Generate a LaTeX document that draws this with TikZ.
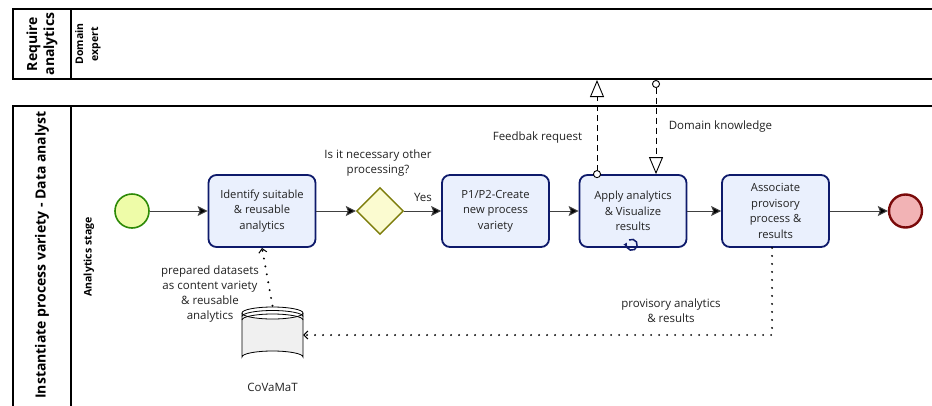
\documentclass[tikz,border=0pt]{standalone}
\usepackage{fontspec}
\setmainfont{Open Sans}
\usetikzlibrary{shapes.geometric,arrows.meta,calc}
\definecolor{taskfill}{HTML}{EAF0FD}
\definecolor{taskdraw}{HTML}{0E1A6B}
\definecolor{startfill}{HTML}{EEFCA8}
\definecolor{startdraw}{HTML}{2D8A07}
\definecolor{endfill}{HTML}{F2B3B5}
\definecolor{enddraw}{HTML}{7A0A0A}
\definecolor{gwfill}{HTML}{FBFBD0}
\definecolor{gwdraw}{HTML}{7D7D0A}
\definecolor{txt}{HTML}{222222}
\tikzset{
  pool/.style={line width=1.2pt, draw=black},
  task/.style={rectangle, rounded corners=8pt, line width=1.8pt, draw=taskdraw, fill=taskfill,
    minimum width=107, minimum height=72, align=center, inner sep=2pt,
    font=\fontsize{11.2}{15.5}\selectfont, text=txt},
  startev/.style={circle, line width=1.6pt, draw=startdraw, fill=startfill, minimum size=34, inner sep=0},
  endev/.style={circle, line width=2.4pt, draw=enddraw, fill=endfill, minimum size=33, inner sep=0},
  gway/.style={diamond, aspect=1, line width=1.4pt, draw=gwdraw, fill=gwfill, minimum width=47, minimum height=47, inner sep=0},
  seqflow/.style={line width=1pt, draw=black!75, -{Stealth[length=10pt,width=10pt,inset=2pt,fill=black]}},
  msgflow/.style={line width=0.9pt, dash pattern=on 6pt off 4pt, {Circle[open,length=8pt,width=8pt,fill=white]}-{Triangle[open,length=17pt,width=14pt,fill=white]}},
  assoc/.style={line width=2.2pt, line cap=round, dash pattern=on 0pt off 8pt, -{Straight Barb[length=4pt,width=8pt,line width=1pt]}},
  lbl/.style={font=\fontsize{11.5}{15}\selectfont, align=center, text=txt, inner sep=0},
  pooltitle/.style={font=\bfseries\fontsize{14}{17}\selectfont, align=center, rotate=90, inner sep=0},
  lanetitle/.style={font=\bfseries\fontsize{10.5}{15}\selectfont, align=center, rotate=90, inner sep=0}
}
\begin{document}
\begin{tikzpicture}[x=1pt,y=-1pt]
\useasboundingbox (0,0) rectangle (932,405);
\fill[white] (0,0) rectangle (932,405);
% pools
\draw[pool] (932,9) -- (13,9) -- (13,79) -- (932,79);
\draw[pool] (71,9) -- (71,79);
\draw[pool] (932,106) -- (13,106) -- (13,406);
\draw[pool] (71,106) -- (71,406);
\node[pooltitle] (p1t) at (42,44) {Require\\analytics};
\node[lanetitle] (l1t) at (88,44) {Domain\\expert};
\node[pooltitle] (p2t) at (42,255) {Instantiate process variety - Data analyst};
\node[lanetitle] (l2t) at (89,257) {Analytics stage};
% nodes
\node[startev] (start) at (132,211) {};
\node[task] (t1) at (262,211) {Identify suitable\\\& reusable\\analytics};
\node[gway] (gw) at (380,211) {};
\node[task] (t2) at (495.5,211) {P1/P2-Create\\new process\\variety};
\node[task] (t3) at (633,211) {Apply analytics\\\& Visualize\\results};
\node[task] (t4) at (775.5,211) {Associate\\provisory\\process \&\\results};
\node[endev] (end) at (905.5,211) {};
% loop marker
\draw[taskdraw, line width=1.5pt, -{Latex[length=3.5pt,width=4.5pt]}] (629,240) arc (-120:205:5.5);
% sequence flows
\draw[seqflow] (start) -- (t1);
\draw[seqflow] (t1) -- (gw);
\draw[seqflow] (gw) -- (t2);
\draw[seqflow] (t2) -- (t3);
\draw[seqflow] (t3) -- (t4);
\draw[seqflow] (t4) -- (end);
% labels
\node[lbl] (gwl) at (378,163) {Is it necessary other\\processing?};
\node[lbl] (yes) at (423,197) {Yes};
% message flows
\coordinate (fbtop) at (597,80);
\coordinate (dktop) at (656,80);
\draw[msgflow] ($(fbtop |- t3.north)+(0,4)$) -- (fbtop);
\draw[msgflow] (dktop) -- (dktop |- t3.north);
\node[lbl] (fbl) at (537.5,138) {Feedbak request};
\node[lbl] (dkl) at (720.5,127) {Domain knowledge};
% data store
\node[inner sep=0, minimum width=61, minimum height=58] (db) at (272.5,335) {};
\begin{scope}[line width=0.8pt]
\fill[black!6] (242,313) -- (242,357) arc (180:360:30.5 and 6) -- (303,313) -- cycle;
\fill[white] (272.5,313) ellipse (30.5 and 6);
\draw (242,313) -- (242,357) arc (180:360:30.5 and 6) -- (303,313);
\draw (272.5,313) ellipse (30.5 and 6);
\draw (242,316.5) arc (180:360:30.5 and 6);
\draw (242,320) arc (180:360:30.5 and 6);
\end{scope}
\node[lbl] (dbl) at (272.5,387) {CoVaMaT};
% data associations
\draw[assoc] (db.north) -- (t1.south);
\coordinate (bend) at (772,335);
\draw[assoc] (t4.south -| bend) -- (bend) -- (db.east);
\node[lbl] (pdl) at (210,294.5) {prepared datasets\\as content variety\\\& reusable\\analytics};
\node[lbl] (pal) at (671,310.5) {provisory analytics\\\& results};
\end{tikzpicture}
\end{document}
